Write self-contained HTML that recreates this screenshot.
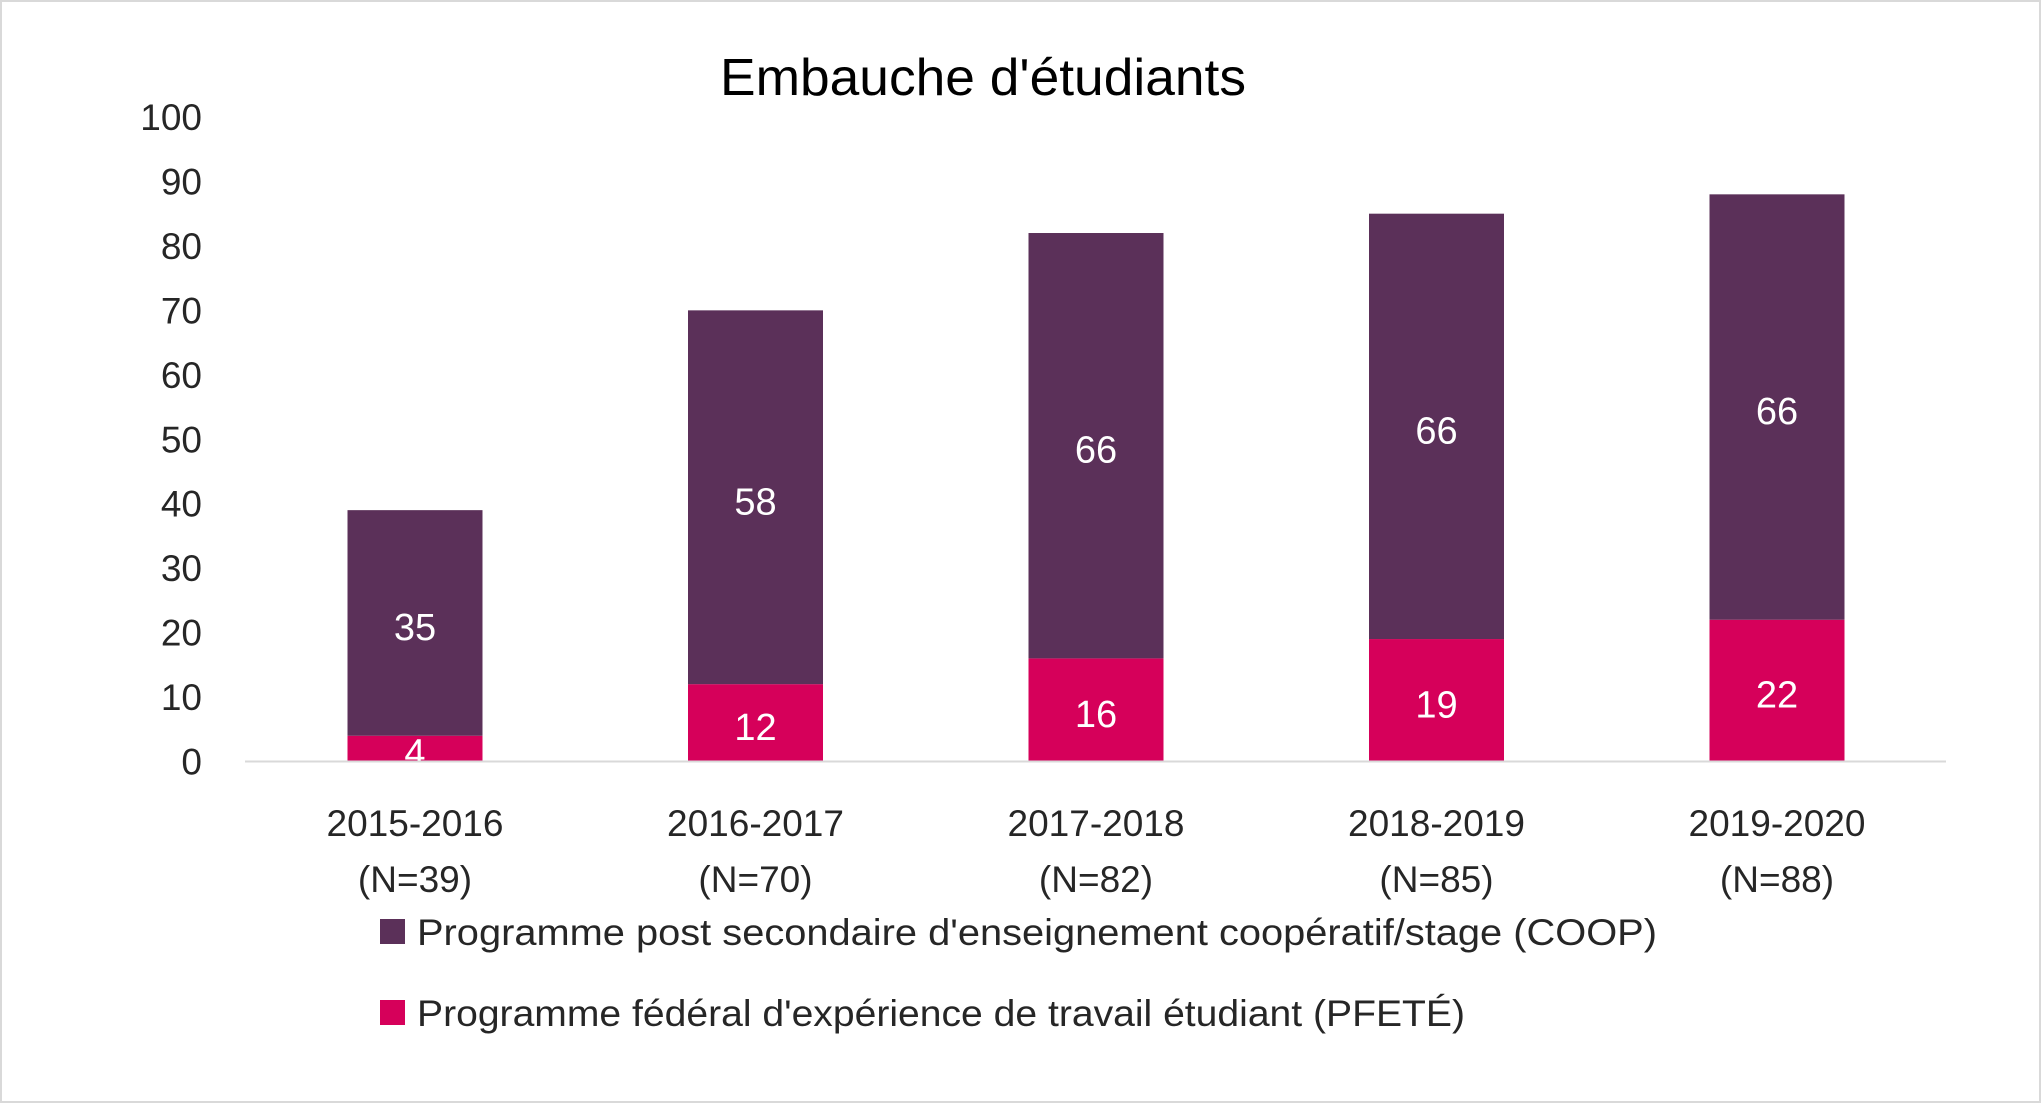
<!DOCTYPE html>
<html><head><meta charset="utf-8"><style>
html,body{margin:0;padding:0;background:#fff;}
svg{display:block;font-family:"Liberation Sans",sans-serif;}
</style></head><body>
<svg id="chart" width="2041" height="1103" viewBox="0 0 2041 1103">
<rect x="1" y="1" width="2039" height="1101" fill="#fff" stroke="#d9d9d9" stroke-width="2"/>
<text x="983" y="95" font-size="52" text-anchor="middle" textLength="526" lengthAdjust="spacingAndGlyphs" fill="#000">Embauche d'étudiants</text>
<g id="yaxis"></g><g id="bars"></g><g id="xaxis"></g>
<line x1="245" y1="761.5" x2="1946" y2="761.5" stroke="#d9d9d9" stroke-width="2"/>
<rect x="380" y="919" width="25" height="25" fill="#5B3059"/>
<text x="417" y="945" font-size="37" textLength="1240" lengthAdjust="spacingAndGlyphs" fill="#262626">Programme post secondaire d'enseignement coopératif/stage (COOP)</text>
<rect x="380" y="1000" width="25" height="25" fill="#D6005A"/>
<text x="417" y="1026" font-size="37" textLength="1048" lengthAdjust="spacingAndGlyphs" fill="#262626">Programme fédéral d'expérience de travail étudiant (PFETÉ)</text>
</svg>
<script>
const categories=["2015-2016","2016-2017","2017-2018","2018-2019","2019-2020"];
const totals=["(N=39)","(N=70)","(N=82)","(N=85)","(N=88)"];
const pfete=[4,12,16,19,22];
const coop=[35,58,66,66,66];
const yTicks=[0,10,20,30,40,50,60,70,80,90,100];
const ns="http://www.w3.org/2000/svg";
const y=v=>761.5-v*6.445;
const x=i=>415+i*340.5;
const bw=135;
function mk(tag,attrs,parent,txt){const e=document.createElementNS(ns,tag);for(const k in attrs)e.setAttribute(k,attrs[k]);if(txt!==undefined)e.textContent=txt;parent.appendChild(e);return e;}
const ya=document.getElementById('yaxis'),bg=document.getElementById('bars'),xa=document.getElementById('xaxis');
yTicks.forEach(t=>{const e=mk('text',{x:202,y:y(t)+13,'font-size':37,'text-anchor':'end',fill:'#262626'},ya,t);

});
categories.forEach((c,i)=>{
const p=mk('rect',{x:x(i)-bw/2,y:y(pfete[i]),width:bw,height:y(0)-y(pfete[i]),fill:'#D6005A'},bg);


const q=mk('rect',{x:x(i)-bw/2,y:y(pfete[i]+coop[i]),width:bw,height:y(pfete[i])-y(pfete[i]+coop[i]),fill:'#5B3059'},bg);


const l1=mk('text',{x:x(i),y:(y(0)+y(pfete[i]))/2+17,'font-size':38,'text-anchor':'middle',fill:'#fff'},bg,pfete[i]);


const l2=mk('text',{x:x(i),y:(y(pfete[i])+y(pfete[i]+coop[i]))/2+17,'font-size':38,'text-anchor':'middle',fill:'#fff'},bg,coop[i]);


const c1=mk('text',{x:x(i),y:836,'font-size':37,'text-anchor':'middle',fill:'#262626'},xa,c);


const c2=mk('text',{x:x(i),y:892,'font-size':37,'text-anchor':'middle',fill:'#262626'},xa,totals[i]);


});
</script>
</body></html>
